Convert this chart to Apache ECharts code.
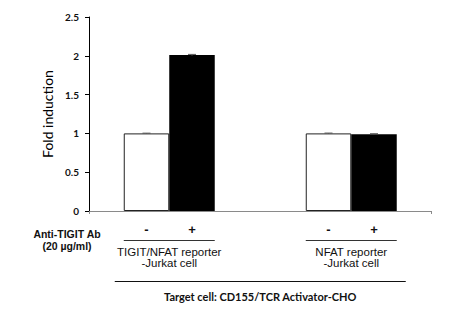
<!DOCTYPE html>
<html>
<head>
<meta charset="utf-8">
<title>Fold induction</title>
<script src="https://cdn.jsdelivr.net/npm/echarts@6/dist/echarts.min.js"></script>
<style>
  html, body { margin: 0; padding: 0; background: #fff; }
  #chart { width: 455px; height: 330px; }
</style>
</head>
<body>
<div id="chart"></div>
<script>
// Reporter cell lines, antibody condition and measured fold induction
const groups = ['TIGIT/NFAT reporter\n-Jurkat cell', 'NFAT reporter\n-Jurkat cell'];
const antibody = ['-', '+'];
const withoutAb = [1.00, 1.00];
const withAb = [2.01, 0.99];
const errWithoutAb = [0.003, 0.004];
const errWithAb = [0.008, 0.006];
const yTicks = { min: 0, max: 2.5, interval: 0.5 };
const conditionLabel = 'Anti-TIGIT Ab\n(20 µg/ml)';
const targetLabel = 'Target cell: CD155/TCR Activator-CHO';

// Each group takes two slots; two empty slots separate the groups
const slotsPerGroup = 4;
const slotCount = (groups.length - 1) * slotsPerGroup + antibody.length;
const slots = [];
const slotSign = [];
for (let i = 0; i < slotCount; i++) {
  slots.push('s' + i);
  const k = i % slotsPerGroup;
  slotSign.push(k < antibody.length ? antibody[k] : '');
}
const whiteData = new Array(slotCount).fill(null);
const blackData = new Array(slotCount).fill(null);
const errData = [];
groups.forEach((g, gi) => {
  const base = gi * slotsPerGroup;
  whiteData[base] = withoutAb[gi];
  blackData[base + 1] = withAb[gi];
  errData.push([base, withoutAb[gi], errWithoutAb[gi]]);
  errData.push([base + 1, withAb[gi], errWithAb[gi]]);
});
const groupSpans = groups.map((g, gi) => [gi * slotsPerGroup, gi * slotsPerGroup + antibody.length - 1, gi]);

const textColor = '#111';
const chart = echarts.init(document.getElementById('chart'), null, { renderer: 'svg' });

chart.setOption({
  animation: false,
  backgroundColor: '#fff',
  grid: [
    { left: 123.75, width: 273, top: 17, height: 194 },
    { left: 89, width: 342, top: 17, height: 194 }
  ],
  xAxis: [
    {
      type: 'category', gridIndex: 0, data: slots,
      axisLine: { show: false }, axisTick: { show: false },
      axisLabel: {
        margin: 12, interval: 0,
        formatter: (v, i) => slotSign[i],
        fontFamily: 'Liberation Sans', fontWeight: 'bold', fontSize: 13, color: textColor
      }
    },
    {
      type: 'value', gridIndex: 1, min: 0, max: 1, interval: 1,
      axisLine: { show: true, lineStyle: { color: '#8a8a8a', width: 1 } },
      axisTick: { show: true, length: 3, lineStyle: { color: '#8a8a8a' } },
      axisLabel: { show: false }, splitLine: { show: false }
    }
  ],
  yAxis: [
    {
      type: 'value', gridIndex: 0, min: yTicks.min, max: yTicks.max, interval: yTicks.interval,
      show: false
    },
    {
      type: 'value', gridIndex: 1, min: yTicks.min, max: yTicks.max, interval: yTicks.interval,
      name: 'Fold induction', nameLocation: 'middle', nameGap: 31, nameRotate: 90,
      nameTextStyle: { fontFamily: 'Lato', fontSize: 14, color: '#000' },
      axisLine: { show: true, lineStyle: { color: '#000', width: 1 } },
      axisTick: { show: true, length: 4, lineStyle: { color: '#000' } },
      axisLabel: { margin: 10, fontFamily: 'Lato', fontWeight: 'bold', fontSize: 10, color: textColor },
      splitLine: { show: false }
    }
  ],
  series: [
    {
      name: 'Ab -', type: 'bar', xAxisIndex: 0, yAxisIndex: 0,
      data: whiteData, barWidth: '100%', barGap: '-100%',
      itemStyle: { color: '#fff', borderColor: '#222', borderWidth: 1 }
    },
    {
      name: 'Ab +', type: 'bar', xAxisIndex: 0, yAxisIndex: 0,
      data: blackData, barWidth: '100%', barGap: '-100%',
      itemStyle: { color: '#000' }
    },
    {
      // error bar caps
      type: 'custom', xAxisIndex: 0, yAxisIndex: 0, data: errData, z: 5,
      renderItem: (params, api) => {
        const x = api.value(0), v = api.value(1), e = api.value(2);
        const hi = api.coord([x, v + e]);
        const lo = api.coord([x, v - e]);
        const c = '#555';
        return {
          type: 'group',
          children: [
            { type: 'line', shape: { x1: hi[0], y1: hi[1], x2: lo[0], y2: lo[1] }, style: { stroke: c, lineWidth: 1 } },
            { type: 'line', shape: { x1: hi[0] - 4, y1: hi[1], x2: hi[0] + 4, y2: hi[1] }, style: { stroke: c, lineWidth: 1 } }
          ]
        };
      }
    },
    {
      // cell line labels beneath each pair of bars
      type: 'custom', xAxisIndex: 0, yAxisIndex: 0, data: groupSpans, clip: false, silent: true,
      renderItem: (params, api) => {
        const a = api.coord([api.value(0), 0]);
        const b = api.coord([api.value(1), 0]);
        const band = api.size([1, 0])[0];
        const x1 = a[0] - band / 2, x2 = b[0] + band / 2;
        const y0 = a[1];
        return {
          type: 'group',
          children: [
            { type: 'line', shape: { x1: x1, y1: y0 + 29.5, x2: x2, y2: y0 + 29.5 }, style: { stroke: '#333', lineWidth: 1 } },
            {
              type: 'text',
              style: {
                text: groups[api.value(2)], x: (x1 + x2) / 2, y: y0 + 46,
                align: 'center', verticalAlign: 'middle', lineHeight: 11,
                fontFamily: 'Liberation Sans', fontSize: 11.5, fill: textColor
              }
            }
          ]
        };
      }
    },
    {
      // target cell label spanning both groups
      type: 'custom', xAxisIndex: 0, yAxisIndex: 0, data: [[0, slotCount - 1]], clip: false, silent: true,
      renderItem: (params, api) => {
        const a = api.coord([api.value(0), 0]);
        const b = api.coord([api.value(1), 0]);
        const band = api.size([1, 0])[0];
        const x1 = a[0] - band / 2 - 9, x2 = b[0] + band / 2 + 9;
        const y0 = a[1];
        return {
          type: 'group',
          children: [
            { type: 'line', shape: { x1: x1, y1: y0 + 70.5, x2: x2, y2: y0 + 70.5 }, style: { stroke: '#111', lineWidth: 1 } },
            {
              type: 'text',
              style: {
                text: targetLabel, x: (x1 + x2) / 2, y: y0 + 85,
                align: 'center', verticalAlign: 'middle',
                fontFamily: 'Lato', fontWeight: 'bold', fontSize: 11, fill: textColor
              }
            }
          ]
        };
      }
    }
  ],
  graphic: [
    {
      type: 'text', x: 67, y: 240,
      style: {
        text: conditionLabel, align: 'center', verticalAlign: 'middle', lineHeight: 12.5,
        fontFamily: 'Liberation Sans', fontWeight: 'bold', fontSize: 10.5, fill: textColor
      }
    }
  ]
});
</script>
</body>
</html>
